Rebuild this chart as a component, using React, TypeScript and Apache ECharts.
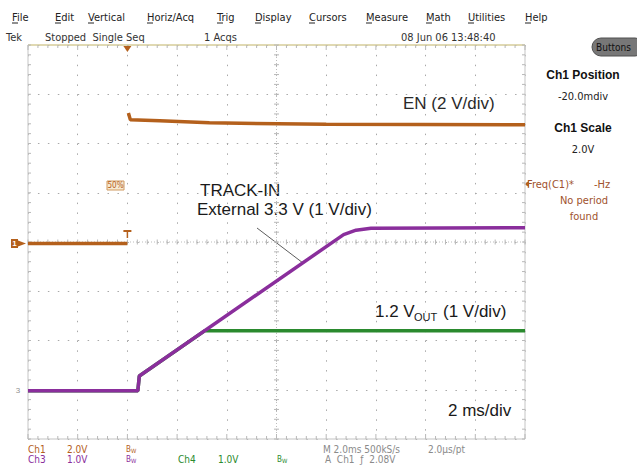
import React, { useEffect, useRef } from "react";
import * as echarts from "echarts";

// Time in ms (trigger at 0), vertical position in screen divisions (0 = bottom graticule line)
const enLowTime = [-4, 0];
const enLowDiv = [3.97, 3.97];
const enHighTime = [0.04, 0.12, 1.3, 3.3, 8, 16];
const enHighDiv = [6.62, 6.48, 6.46, 6.42, 6.39, 6.38];

const trackTime = [-4, 0.42, 0.48, 8.7, 9.2, 9.8, 16];
const trackDiv = [0.98, 0.98, 1.28, 4.15, 4.24, 4.28, 4.29];

const voutTime = [-4, 0.42, 0.48, 3.12, 16];
const voutDiv = [0.98, 0.98, 1.28, 2.2, 2.2];

const menuItems = ["File", "Edit", "Vertical", "Horiz/Acq", "Trig", "Display", "Cursors", "Measure", "Math", "Utilities", "Help"];
const menuX = [12, 55, 88, 147, 217, 255, 309, 366, 426, 468, 525];

const ORANGE = "#b4601c";
const PURPLE = "#8a2e9c";
const GREEN = "#2a8a2e";
const UI = "'Liberation Sans Narrow', 'DejaVu Sans Condensed', 'Liberation Sans', sans-serif";
const ANN = "'Liberation Sans', Arial, sans-serif";

const zip = (a: number[], b: number[]) => a.map((v, i) => [v, b[i]]);

function frameRender(params: any, api: any) {
  const children: any[] = [];
  const P = (x: number, y: number) => api.coord([x, y]);
  const ln = (x1: number, y1: number, x2: number, y2: number, stroke: string, lw = 1, dash?: number[]) =>
    children.push({ type: "line", shape: { x1, y1, x2, y2 }, style: { stroke, lineWidth: lw, lineDash: dash }, silent: true });
  const tl = P(-4, 8), br = P(16, 0);
  const cx = P(6, 4)[0], cy = P(6, 4)[1];
  ln(tl[0], tl[1], br[0], tl[1], "#d6cd98", 1.5);
  ln(tl[0], br[1], br[0], br[1], "#c4c4c4", 1.2);
  ln(tl[0], tl[1], tl[0], br[1], "#cfcfcf", 1.2);
  ln(br[0], tl[1], br[0], br[1], "#cfcfcf", 1.2);
  for (let i = 0; i <= 50; i++) {
    const t = -4 + i * 0.4;
    const x = P(t, 0)[0];
    const major = i % 5 === 0;
    ln(x, tl[1], x, tl[1] + (major ? 5 : 3), "#b8b8b8", 1);
    ln(x, br[1], x, br[1] - (major ? 5 : 3), "#b8b8b8", 1);
    ln(x, cy - 2.5, x, cy + 2.5, "#b8b8b8", 1);
  }
  for (let j = 0; j <= 40; j++) {
    const v = j * 0.2;
    const y = P(0, v)[1];
    ln(tl[0], y, tl[0] + 3, y, "#b8b8b8", 1);
    ln(br[0], y, br[0] - 3, y, "#b8b8b8", 1);
    ln(cx - 2.5, y, cx + 2.5, y, "#b8b8b8", 1);
  }
  ln(tl[0], cy, br[0], cy, "#bdbdbd", 1, [1, 2]);
  ln(cx, tl[1], cx, br[1], "#bdbdbd", 1, [1, 2]);
  const tp = P(0, 8);
  children.push({ type: "polygon", shape: { points: [[tp[0] - 4, tp[1] + 1], [tp[0] + 4, tp[1] + 1], [tp[0], tp[1] + 7]] }, style: { fill: ORANGE }, silent: true });
  const tt = P(0, 4);
  ln(tt[0] - 4, tt[1] - 11, tt[0] + 4, tt[1] - 11, ORANGE, 2);
  ln(tt[0], tt[1] - 11, tt[0], tt[1] - 4, ORANGE, 1.5);
  const g1 = P(-4, enLowDiv[0]);
  children.push({ type: "rect", shape: { x: g1[0] - 17, y: g1[1] - 4.5, width: 7, height: 9 }, style: { fill: ORANGE }, silent: true });
  children.push({ type: "polygon", shape: { points: [[g1[0] - 10, g1[1] - 3], [g1[0] - 2, g1[1]], [g1[0] - 10, g1[1] + 3]] }, style: { fill: ORANGE }, silent: true });
  children.push({ type: "text", x: g1[0] - 13.5, y: g1[1], style: { text: "1", fill: "#fff", font: "bold 8px " + ANN, align: "center", verticalAlign: "middle" }, silent: true });
  const g3 = P(-4, trackDiv[0]);
  children.push({ type: "text", x: g3[0] - 10, y: g3[1], style: { text: "3", fill: "#909090", font: "8px " + ANN, align: "center", verticalAlign: "middle" }, silent: true });
  return { type: "group", children };
}

export default function App() {
  const ref = useRef<HTMLDivElement>(null);
  useEffect(() => {
    if (!ref.current) return;
    const chart = echarts.init(ref.current, null, { renderer: "svg" });
    const graphics: any[] = [];
    const txt = (text: string, x: number, y: number, fill: string, font: string, align = "left") =>
      graphics.push({ type: "text", x, y, silent: true, style: { text, fill, font, align, verticalAlign: "middle" } });
    const bw = (x: number, y: number, fill: string) =>
      graphics.push({ type: "text", x, y, silent: true, style: { text: "{b|B}{w|W}", fill, align: "left", verticalAlign: "middle", rich: { b: { fontSize: 8, fill, fontFamily: UI }, w: { fontSize: 6, fill, fontFamily: UI, padding: [2, 0, 0, 0] } } } });

    menuItems.forEach((m, i) => {
      txt(m, menuX[i], 17, "#222", "11px " + UI);
      graphics.push({ type: "line", shape: { x1: menuX[i], y1: 23, x2: menuX[i] + 6, y2: 23 }, style: { stroke: "#222", lineWidth: 1 }, silent: true });
    });
    txt("Tek", 6, 37, "#333", "11px " + UI);
    txt("Stopped  Single Seq", 45, 37, "#333", "11px " + UI);
    txt("1 Acqs", 204, 37, "#333", "11px " + UI);
    txt("08 Jun 06 13:48:40", 401, 37, "#333", "11px " + UI);

    graphics.push({ type: "rect", shape: { x: 592, y: 38, width: 52, height: 18, r: 9 }, style: { fill: "#777777", stroke: "#505050", lineWidth: 1 }, silent: true });
    txt("Buttons", 596, 47, "#111", "10px " + UI);
    txt("Ch1 Position", 583, 75, "#111", "bold 12px " + ANN, "center");
    txt("-20.0mdiv", 583, 96, "#222", "11px " + UI, "center");
    txt("Ch1 Scale", 583, 128, "#111", "bold 12px " + ANN, "center");
    txt("2.0V", 583, 149, "#222", "11px " + UI, "center");
    txt("Freq(C1)*", 527, 184, "#a0522d", "11px " + UI);
    txt("-Hz", 594, 184, "#a0522d", "11px " + UI);
    txt("No period", 584, 200, "#a0522d", "11px " + UI, "center");
    txt("found", 584, 216, "#a0522d", "11px " + UI, "center");
    graphics.push({ type: "polygon", shape: { points: [[524, 184], [529, 181], [529, 187]] }, style: { fill: ORANGE }, silent: true });

    graphics.push({ type: "rect", shape: { x: 107, y: 181, width: 17, height: 9 }, style: { fill: "#f7ead2", stroke: "#d09a60", lineWidth: 1 }, silent: true });
    txt("50%", 115.5, 185.5, ORANGE, "8px " + UI, "center");

    txt("EN (2 V/div)", 403, 103, "#2a2a2a", "17px " + ANN);
    txt("TRACK-IN", 200, 190, "#1a1a1a", "17px " + ANN);
    txt("External 3.3 V (1 V/div)", 197, 209, "#1a1a1a", "17px " + ANN);
    txt("1.2 V", 375, 311, "#1a1a1a", "17px " + ANN);
    txt("OUT", 414, 317, "#1a1a1a", "11px " + ANN);
    txt("(1 V/div)", 443, 311, "#1a1a1a", "17px " + ANN);
    txt("2 ms/div", 448, 410, "#1a1a1a", "17px " + ANN);
    graphics.push({ type: "line", shape: { x1: 257, y1: 228, x2: 303, y2: 263 }, style: { stroke: "#333", lineWidth: 0.8 }, silent: true });

    const r1 = 449, r2 = 459.5;
    const f = "10px " + UI;
    txt("Ch1", 28, r1, ORANGE, f);
    txt("2.0V", 67, r1, ORANGE, f);
    bw(126, r1, ORANGE);
    txt("M 2.0ms 500kS/s", 323, r1, "#8a8a8a", f);
    txt("2.0\u00b5s/pt", 428, r1, "#8a8a8a", f);
    txt("Ch3", 28, r2, PURPLE, f);
    txt("1.0V", 67, r2, PURPLE, f);
    bw(126, r2, PURPLE);
    txt("Ch4", 178, r2, GREEN, f);
    txt("1.0V", 218, r2, GREEN, f);
    bw(277, r2, GREEN);
    txt("A  Ch1  \u0192  2.08V", 325, r2, "#8a8a8a", f);

    const enData: any[] = [...zip(enLowTime, enLowDiv), [0.02, "-"], ...zip(enHighTime, enHighDiv)];

    chart.setOption({
      animation: false,
      backgroundColor: "#ffffff",
      grid: { left: 28, top: 45, width: 497, height: 394, containLabel: false },
      xAxis: {
        type: "value", min: -4, max: 16, interval: 2,
        axisLabel: { show: false }, axisTick: { show: false }, axisLine: { show: false },
        splitLine: { show: true, lineStyle: { color: "#a9a9a9", width: 1, type: [1.5, 8.35] } },
      },
      yAxis: {
        type: "value", min: 0, max: 8, interval: 1,
        axisLabel: { show: false }, axisTick: { show: false }, axisLine: { show: false },
        splitLine: { show: true, lineStyle: { color: "#a9a9a9", width: 1, type: [1.5, 8.44] } },
      },
      series: [
        { type: "custom", renderItem: frameRender, data: [[0, 0]], silent: true, z: 1, clip: false },
        { name: "1.2 VOUT", type: "line", data: zip(voutTime, voutDiv), showSymbol: false, lineStyle: { color: GREEN, width: 3.5 }, z: 3 },
        { name: "EN", type: "line", data: enData, connectNulls: false, showSymbol: false, lineStyle: { color: ORANGE, width: 3.5 }, z: 4 },
        { name: "TRACK-IN", type: "line", data: zip(trackTime, trackDiv), showSymbol: false, lineStyle: { color: PURPLE, width: 3.5 }, z: 5 },
      ],
      graphic: graphics,
    });
    return () => chart.dispose();
  }, []);
  return <div ref={ref} style={{ position: "absolute", left: 0, top: 0, width: 637, height: 465, background: "#fff" }} />;
}
